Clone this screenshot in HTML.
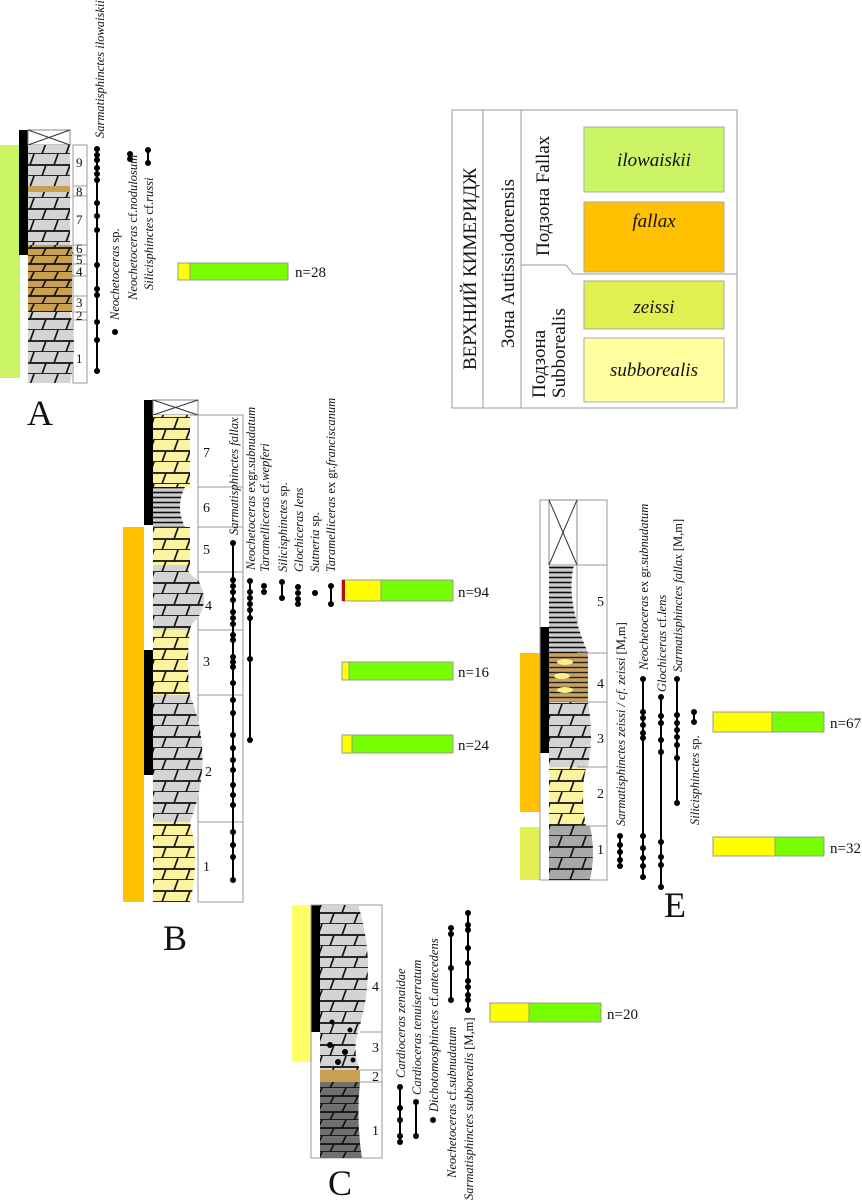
<!DOCTYPE html>
<html><head><meta charset="utf-8"><style>body{margin:0;background:#fff}svg{display:block}</style></head><body>
<svg width="862" height="1200" viewBox="0 0 862 1200" xmlns="http://www.w3.org/2000/svg" font-family="Liberation Serif, serif">
<defs>
<pattern id="pg" width="24" height="22" patternUnits="userSpaceOnUse"><rect width="24" height="22" fill="#d4d4d4"/><path d="M0 11H24M0 22H24M6 11L10 0M18 22L22 11" stroke="#111" stroke-width="1.7"/></pattern>
<pattern id="pb" width="24" height="16" patternUnits="userSpaceOnUse"><rect width="24" height="16" fill="#c8a050"/><path d="M0 8H24M0 16H24M6 8L10 0M18 16L22 8" stroke="#111" stroke-width="1.7"/></pattern>
<pattern id="py" width="24" height="22" patternUnits="userSpaceOnUse"><rect width="24" height="22" fill="#fbf3a0"/><path d="M0 11H24M0 22H24M6 11L10 0M18 22L22 11" stroke="#111" stroke-width="1.7"/></pattern>
<pattern id="pd" width="24" height="16" patternUnits="userSpaceOnUse"><rect width="24" height="16" fill="#707070"/><path d="M0 8H24M0 16H24M6 8L10 0M18 16L22 8" stroke="#111" stroke-width="1.7"/></pattern>
<pattern id="pm" width="24" height="22" patternUnits="userSpaceOnUse"><rect width="24" height="22" fill="#a8a8a8"/><path d="M0 11H24M0 22H24M6 11L10 0M18 22L22 11" stroke="#111" stroke-width="1.7"/></pattern>
<pattern id="ph" width="10" height="5" patternUnits="userSpaceOnUse"><rect width="10" height="5" fill="#ccc"/><path d="M0 2.5H10" stroke="#111" stroke-width="1.6"/></pattern>
<pattern id="pbh" width="10" height="5" patternUnits="userSpaceOnUse"><rect width="10" height="5" fill="#c8a060"/><path d="M0 2.5H10" stroke="#222" stroke-width="1.4"/></pattern>
</defs>
<g font-style="italic" font-size="12.5" fill="#111">
<!-- ===== A ===== -->
<rect x="0" y="145" width="20" height="233" fill="#ccf566"/>
<rect x="19" y="130" width="9" height="125" fill="#000"/>
<rect x="28" y="130" width="42" height="15" fill="#fff" stroke="#888"/>
<path d="M28 130L70 145M70 130L28 145" stroke="#333"/>
<rect x="73" y="145" width="14" height="238" fill="#fff" stroke="#999"/>
<path d="M28 145H70V245Q76 250 70 258V272Q76 278 70 286V312Q78 345 70 383H28Z" fill="url(#pg)"/>
<rect x="28" y="245" width="44" height="67" fill="url(#pb)"/>
<rect x="28" y="186" width="42" height="6" fill="#c8a050"/>
<path d="M73 186H87M73 196H87M73 245H87M73 255H87M73 264H87M73 276H87M73 296H87M73 312H87M73 320H87" stroke="#999"/>
<g font-style="normal" font-size="13"><text x="76" y="167">9</text><text x="76" y="196">8</text><text x="76" y="224">7</text><text x="76" y="253">6</text><text x="76" y="264">5</text><text x="76" y="276">4</text><text x="76" y="307">3</text><text x="76" y="320">2</text><text x="76" y="363">1</text></g>
<line x1="97" y1="148" x2="97" y2="372" stroke="#000" stroke-width="2"/>
<g fill="#000"><circle cx="97" cy="149" r="3"/><circle cx="97" cy="155" r="3"/><circle cx="97" cy="160" r="3"/><circle cx="97" cy="168" r="3"/><circle cx="97" cy="174" r="3"/><circle cx="97" cy="180" r="3"/><circle cx="97" cy="203" r="3"/><circle cx="97" cy="216" r="3"/><circle cx="97" cy="230" r="3"/><circle cx="97" cy="265" r="3"/><circle cx="97" cy="289" r="3"/><circle cx="97" cy="295" r="3"/><circle cx="97" cy="322" r="3"/><circle cx="97" cy="340" r="3"/><circle cx="97" cy="371" r="3"/>
<circle cx="115" cy="332" r="3"/><circle cx="130" cy="154" r="3"/><circle cx="130" cy="159" r="3"/><circle cx="148" cy="150" r="3"/><circle cx="148" cy="163" r="3"/></g>
<line x1="148" y1="150" x2="148" y2="163" stroke="#000" stroke-width="2"/>
<text transform="translate(104,138) rotate(-90)">Sarmatisphinctes ilowaiskii</text>
<text transform="translate(119,320) rotate(-90)">Neochetoceras <tspan font-style="normal">sp.</tspan></text>
<text transform="translate(137,300) rotate(-90)">Neochetoceras <tspan font-style="normal">cf.</tspan>nodulosum</text>
<text transform="translate(153,290) rotate(-90)">Silicisphinctes <tspan font-style="normal">cf.</tspan>russi</text>
<rect x="178" y="263" width="110" height="17" fill="#77ff00" stroke="#999"/><rect x="178" y="263" width="12" height="17" fill="#ffff00" stroke="#999"/>
<text x="295" y="277" font-style="normal" font-size="15">n=28</text>
<text x="40" y="425" font-style="normal" font-size="36" text-anchor="middle">A</text>

<!-- ===== B ===== -->
<rect x="123" y="527" width="21" height="375" fill="#ffc000"/>
<rect x="144" y="400" width="9" height="125" fill="#000"/><rect x="144" y="650" width="9" height="125" fill="#000"/>
<rect x="153" y="400" width="45" height="15" fill="#fff" stroke="#888"/><path d="M153 400L198 415M198 400L153 415" stroke="#333"/>
<rect x="198" y="415" width="45" height="487" fill="#fff" stroke="#999"/>
<path d="M153 415H190V487H153Z" fill="url(#py)"/>
<path d="M153 487H185Q175 507 185 527H153Z" fill="url(#ph)"/>
<path d="M153 527H190V565Q184 572 198 580Q208 600 198 618Q190 625 190 630H153Z" fill="url(#py)"/>
<path d="M153 565H190Q184 572 198 580Q210 600 198 618Q190 625 190 630H153Z" fill="url(#pg)"/>
<path d="M153 630H190Q186 665 190 695H153Z" fill="url(#py)"/>
<path d="M153 695H190Q215 758 190 822H153Z" fill="url(#pg)"/>
<path d="M153 822H190Q200 862 190 902H153Z" fill="url(#py)"/>
<path d="M198 487H243M198 527H243M198 572H243M198 630H243M198 695H243M198 822H243" stroke="#999"/>
<g font-style="normal" font-size="14"><text x="203" y="457">7</text><text x="203" y="512">6</text><text x="203" y="554">5</text><text x="205" y="610">4</text><text x="203" y="666">3</text><text x="205" y="776">2</text><text x="203" y="871">1</text></g>
<g stroke="#000" stroke-width="2"><line x1="233" y1="543" x2="233" y2="880"/><line x1="250" y1="580" x2="250" y2="740"/><line x1="282" y1="585" x2="282" y2="598"/><line x1="331" y1="586" x2="331" y2="603"/></g>
<g fill="#000"><circle cx="233" cy="543" r="3"/><circle cx="233" cy="580" r="3"/><circle cx="233" cy="586" r="3"/><circle cx="233" cy="592" r="3"/><circle cx="233" cy="600" r="3"/><circle cx="233" cy="612" r="3"/><circle cx="233" cy="618" r="3"/><circle cx="233" cy="624" r="3"/><circle cx="233" cy="635" r="3"/><circle cx="233" cy="640" r="3"/><circle cx="233" cy="657" r="3"/><circle cx="233" cy="662" r="3"/><circle cx="233" cy="667" r="3"/><circle cx="233" cy="683" r="3"/><circle cx="233" cy="700" r="3"/><circle cx="233" cy="713" r="3"/><circle cx="233" cy="735" r="3"/><circle cx="233" cy="748" r="3"/><circle cx="233" cy="760" r="3"/><circle cx="233" cy="770" r="3"/><circle cx="233" cy="785" r="3"/><circle cx="233" cy="795" r="3"/><circle cx="233" cy="805" r="3"/><circle cx="233" cy="832" r="3"/><circle cx="233" cy="845" r="3"/><circle cx="233" cy="857" r="3"/><circle cx="233" cy="880" r="3"/>
<circle cx="250" cy="581" r="3"/><circle cx="250" cy="592" r="3"/><circle cx="250" cy="598" r="3"/><circle cx="250" cy="604" r="3"/><circle cx="250" cy="610" r="3"/><circle cx="250" cy="618" r="3"/><circle cx="250" cy="659" r="3"/><circle cx="250" cy="740" r="3"/>
<circle cx="264" cy="586" r="3"/><circle cx="264" cy="592" r="3"/><circle cx="282" cy="582" r="3"/><circle cx="282" cy="598" r="3"/>
<circle cx="298" cy="587" r="3"/><circle cx="298" cy="593" r="3"/><circle cx="298" cy="599" r="3"/><circle cx="298" cy="604" r="3"/><circle cx="315" cy="593" r="3"/><circle cx="331" cy="586" r="3"/><circle cx="331" cy="604" r="3"/></g>
<text transform="translate(238,535) rotate(-90)">Sarmatisphinctes  fallax</text>
<text transform="translate(255,570) rotate(-90)">Neochetoceras <tspan font-style="normal">exgr.</tspan>subnudatum</text>
<text transform="translate(269,572) rotate(-90)">Taramelliceras <tspan font-style="normal">cf.</tspan>wepferi</text>
<text transform="translate(287,572) rotate(-90)">Silicisphinctes <tspan font-style="normal">sp.</tspan></text>
<text transform="translate(303,572) rotate(-90)">Glochiceras lens</text>
<text transform="translate(319,572) rotate(-90)">Sutneria <tspan font-style="normal">sp.</tspan></text>
<text transform="translate(335,572) rotate(-90)">Taramelliceras <tspan font-style="normal">ex gr.</tspan>franciscanum</text>
<rect x="342" y="580" width="111" height="21" fill="#77ff00" stroke="#999"/><rect x="342" y="580" width="39" height="21" fill="#ffff00" stroke="#999"/><rect x="342" y="580" width="3" height="21" fill="#b01010"/>
<text x="458" y="597" font-style="normal" font-size="15">n=94</text>
<rect x="342" y="662" width="111" height="18" fill="#77ff00" stroke="#999"/><rect x="342" y="662" width="7" height="18" fill="#ffff00" stroke="#999"/>
<text x="458" y="677" font-style="normal" font-size="15">n=16</text>
<rect x="342" y="735" width="111" height="18" fill="#77ff00" stroke="#999"/><rect x="342" y="735" width="10" height="18" fill="#ffff00" stroke="#999"/>
<text x="458" y="750" font-style="normal" font-size="15">n=24</text>
<text x="175" y="950" font-style="normal" font-size="36" text-anchor="middle">B</text>

<!-- ===== C ===== -->
<rect x="292" y="905" width="20" height="157" fill="#ffff66"/>
<rect x="311" y="905" width="9" height="127" fill="#000"/>
<rect x="311" y="905" width="71" height="253" fill="none" stroke="#999"/>
<path d="M320 905H358Q378 968 358 1032H320Z" fill="url(#pg)"/>
<path d="M320 1032H358Q352 1050 360 1070H320Z" fill="url(#pg)"/>
<g fill="#000"><circle cx="332" cy="1022" r="2.5"/><circle cx="350" cy="1030" r="2.5"/><circle cx="330" cy="1045" r="3"/><circle cx="345" cy="1052" r="3"/><circle cx="338" cy="1062" r="3"/><circle cx="353" cy="1060" r="2.5"/></g>
<rect x="320" y="1070" width="40" height="12" fill="#c8a050"/>
<path d="M320 1082H360Q356 1120 362 1158H320Z" fill="url(#pd)"/>
<path d="M360 1032H382M360 1070H382M360 1082H382" stroke="#999"/>
<g font-style="normal" font-size="14"><text x="372" y="991">4</text><text x="372" y="1052">3</text><text x="372" y="1081">2</text><text x="372" y="1135">1</text></g>
<g stroke="#000" stroke-width="2"><line x1="400" y1="1087" x2="400" y2="1142"/><line x1="416" y1="1102" x2="416" y2="1136"/><line x1="451" y1="928" x2="451" y2="1000"/><line x1="468" y1="913" x2="468" y2="1010"/></g>
<g fill="#000"><circle cx="400" cy="1087" r="3"/><circle cx="400" cy="1108" r="3"/><circle cx="400" cy="1120" r="3"/><circle cx="400" cy="1136" r="3"/><circle cx="400" cy="1142" r="3"/><circle cx="416" cy="1102" r="3"/><circle cx="416" cy="1136" r="3"/><circle cx="433" cy="1120" r="3"/>
<circle cx="451" cy="928" r="3"/><circle cx="451" cy="934" r="3"/><circle cx="451" cy="968" r="3"/><circle cx="451" cy="1000" r="3"/>
<circle cx="468" cy="913" r="3"/><circle cx="468" cy="925" r="3"/><circle cx="468" cy="930" r="3"/><circle cx="468" cy="948" r="3"/><circle cx="468" cy="963" r="3"/><circle cx="468" cy="981" r="3"/><circle cx="468" cy="987" r="3"/><circle cx="468" cy="995" r="3"/><circle cx="468" cy="1000" r="3"/><circle cx="468" cy="1010" r="3"/></g>
<text transform="translate(405,1078) rotate(-90)">Cardioceras zenaidae</text>
<text transform="translate(421,1095) rotate(-90)">Cardioceras tenuiserratum</text>
<text transform="translate(438,1112) rotate(-90)">Dichotomosphinctes <tspan font-style="normal">cf.</tspan>antecedens</text>
<text transform="translate(456,1178) rotate(-90)">Neochetoceras <tspan font-style="normal">cf.</tspan>subnudatum</text>
<text transform="translate(473,1200) rotate(-90)">Sarmatisphinctes subborealis <tspan font-style="normal">[M,m]</tspan></text>
<rect x="490" y="1003" width="111" height="19" fill="#77ff00" stroke="#999"/><rect x="490" y="1003" width="39" height="19" fill="#ffff00" stroke="#999"/>
<text x="607" y="1019" font-style="normal" font-size="15">n=20</text>
<text x="340" y="1195" font-style="normal" font-size="36" text-anchor="middle">C</text>

<!-- ===== E ===== -->
<rect x="520" y="653" width="20" height="159" fill="#ffc000"/>
<rect x="520" y="827" width="20" height="53" fill="#e0f050"/>
<rect x="540" y="627" width="9" height="126" fill="#000"/>
<rect x="540" y="500" width="67" height="380" fill="none" stroke="#999"/>
<rect x="549" y="500" width="28" height="65" fill="#fff" stroke="#888"/><path d="M549 500L577 565M577 500L549 565" stroke="#333"/>
<rect x="577" y="565" width="30" height="315" fill="#fff" stroke="#999"/>
<path d="M549 565H574Q565 600 588 653H549Z" fill="url(#ph)"/>
<path d="M549 653H588V702H549Z" fill="url(#pbh)"/>
<g fill="#fbf08a"><ellipse cx="565" cy="662" rx="8" ry="3"/><ellipse cx="562" cy="676" rx="8" ry="3"/><ellipse cx="565" cy="690" rx="8" ry="3"/></g>
<path d="M549 702H588Q594 735 588 767H549Z" fill="url(#pg)"/>
<path d="M549 767H586Q580 795 586 826H549Z" fill="url(#py)"/>
<path d="M549 826H590Q596 853 590 880H549Z" fill="url(#pm)"/>
<path d="M577 653H607M577 702H607M577 767H607M577 826H607" stroke="#999"/>
<g font-style="normal" font-size="14"><text x="597" y="606">5</text><text x="597" y="688">4</text><text x="597" y="743">3</text><text x="597" y="798">2</text><text x="597" y="854">1</text></g>
<g stroke="#000" stroke-width="2"><line x1="620" y1="836" x2="620" y2="866"/><line x1="643" y1="679" x2="643" y2="877"/><line x1="661" y1="697" x2="661" y2="887"/><line x1="677" y1="679" x2="677" y2="803"/><line x1="694" y1="712" x2="694" y2="722"/></g>
<g fill="#000"><circle cx="620" cy="836" r="3"/><circle cx="620" cy="845" r="3"/><circle cx="620" cy="852" r="3"/><circle cx="620" cy="860" r="3"/><circle cx="620" cy="866" r="3"/>
<circle cx="643" cy="679" r="3"/><circle cx="643" cy="712" r="3"/><circle cx="643" cy="718" r="3"/><circle cx="643" cy="725" r="3"/><circle cx="643" cy="733" r="3"/><circle cx="643" cy="738" r="3"/><circle cx="643" cy="836" r="3"/><circle cx="643" cy="848" r="3"/><circle cx="643" cy="858" r="3"/><circle cx="643" cy="866" r="3"/><circle cx="643" cy="877" r="3"/>
<circle cx="661" cy="697" r="3"/><circle cx="661" cy="716" r="3"/><circle cx="661" cy="723" r="3"/><circle cx="661" cy="740" r="3"/><circle cx="661" cy="752" r="3"/><circle cx="661" cy="842" r="3"/><circle cx="661" cy="857" r="3"/><circle cx="661" cy="865" r="3"/><circle cx="661" cy="887" r="3"/>
<circle cx="677" cy="679" r="3"/><circle cx="677" cy="715" r="3"/><circle cx="677" cy="723" r="3"/><circle cx="677" cy="730" r="3"/><circle cx="677" cy="737" r="3"/><circle cx="677" cy="745" r="3"/><circle cx="677" cy="758" r="3"/><circle cx="677" cy="803" r="3"/>
<circle cx="694" cy="712" r="3"/><circle cx="694" cy="722" r="3"/></g>
<text transform="translate(625,826) rotate(-90)">Sarmatisphinctes zeissi / cf. zeissi <tspan font-style="normal">[M,m]</tspan></text>
<text transform="translate(648,670) rotate(-90)">Neochetoceras <tspan font-style="normal">ex gr.</tspan>subnudatum</text>
<text transform="translate(666,692) rotate(-90)">Glochiceras <tspan font-style="normal">cf.</tspan>lens</text>
<text transform="translate(682,672) rotate(-90)">Sarmatisphinctes fallax <tspan font-style="normal">[M,m]</tspan></text>
<text transform="translate(699,825) rotate(-90)">Silicisphinctes <tspan font-style="normal">sp.</tspan></text>
<rect x="713" y="712" width="111" height="20" fill="#77ff00" stroke="#999"/><rect x="713" y="712" width="59" height="20" fill="#ffff00" stroke="#999"/>
<text x="830" y="728" font-style="normal" font-size="15">n=67</text>
<rect x="713" y="837" width="111" height="19" fill="#77ff00" stroke="#999"/><rect x="713" y="837" width="62" height="19" fill="#ffff00" stroke="#999"/>
<text x="830" y="853" font-style="normal" font-size="15">n=32</text>
<text x="675" y="917" font-style="normal" font-size="36" text-anchor="middle">E</text>
</g>

<!-- ===== Legend ===== -->
<g fill="#111" stroke="none">
<rect x="452" y="110" width="285" height="298" fill="#fff" stroke="#999"/>
<path d="M483 110V408M521 110V408M521 265H566L573 274H737" stroke="#999" fill="none"/>
<rect x="584" y="127" width="140" height="65" fill="#ccf566" stroke="#aaa"/>
<rect x="584" y="202" width="140" height="70" fill="#ffc000" stroke="#aaa"/>
<rect x="584" y="281" width="140" height="48" fill="#e0f050" stroke="#aaa"/>
<rect x="584" y="338" width="140" height="64" fill="#ffffa0" stroke="#aaa"/>
<g font-style="italic" font-size="19" text-anchor="middle"><text x="654" y="166">ilowaiskii</text><text x="654" y="227">fallax</text><text x="654" y="313">zeissi</text><text x="654" y="376">subborealis</text></g>
<g font-size="19"><text transform="translate(476,370) rotate(-90)">ВЕРХНИЙ КИМЕРИДЖ</text>
<text transform="translate(514,348) rotate(-90)">Зона Autissiodorensis</text>
<text transform="translate(549,256) rotate(-90)">Подзона Fallax</text>
<text transform="translate(545,398) rotate(-90)">Подзона</text>
<text transform="translate(565,398) rotate(-90)">Subborealis</text></g>
</g>
</svg>
</body></html>
